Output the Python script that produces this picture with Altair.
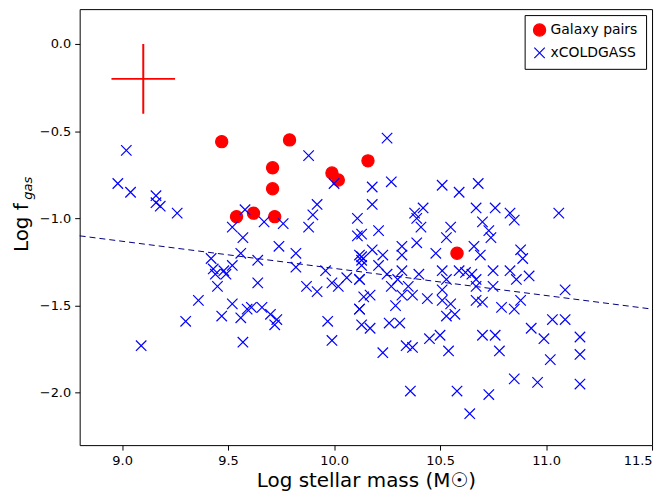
import altair as alt
import pandas as pd

pairs_mass = [9.47, 9.54, 9.62, 9.71, 9.71, 9.72, 9.79, 9.99, 10.02, 10.16, 10.58]
pairs_fgas = [-0.56, -0.99, -0.97, -0.71, -0.83, -0.99, -0.55, -0.74, -0.78, -0.67, -1.20]

cold_mass = [
    9.02, 8.98, 9.04, 9.16, 9.16, 9.18, 9.26, 9.09, 9.30, 9.36, 9.42, 9.43, 9.44, 9.45,
    9.48, 9.49, 9.52, 9.47, 9.52, 9.52, 9.58, 9.57, 9.56, 9.64, 9.64, 9.56, 9.57, 9.59,
    9.61, 9.66, 9.70, 9.73, 9.72, 9.67, 9.76, 9.74, 9.82, 9.82, 9.87, 9.92, 9.88, 9.90,
    9.92, 9.88, 10.00, 9.96, 9.99, 10.02, 10.06, 10.12, 9.97, 9.99, 10.11, 10.11, 10.12,
    10.13, 10.13, 10.12, 10.13, 10.14,
    10.25, 10.18, 10.27, 10.18, 10.51, 10.59, 10.68, 11.06, 10.38, 10.42, 10.39, 10.41,
    10.67, 10.76, 10.83, 10.85, 10.70, 10.73, 10.74, 10.21, 10.13, 10.55, 10.53, 10.39,
    10.32, 10.32, 10.48, 10.66, 10.69, 10.88, 10.89, 10.18, 10.23, 10.13, 10.21, 10.25,
    10.32, 10.40, 10.30, 10.35, 10.51, 10.53, 10.59, 10.62, 10.65, 10.67, 10.67, 10.75,
    10.75, 10.83, 10.86, 10.92, 11.09, 10.12, 10.27, 10.17, 10.32, 10.37, 10.44, 10.51,
    10.51, 10.55, 10.57, 10.53, 10.29, 10.31, 10.26, 10.17, 10.12, 10.67, 10.70, 10.79,
    10.85, 10.88, 10.93, 10.99, 11.03, 11.09, 11.16, 11.16, 11.02, 10.96, 11.16, 10.85,
    10.70, 10.76, 10.78, 10.54, 10.50, 10.45, 10.37, 10.34, 10.23, 10.36, 10.58, 10.73,
    10.64,
]
cold_fgas = [
    -0.61, -0.80, -0.85, -0.87, -0.91, -0.93, -0.97, -1.73, -1.59, -1.47, -1.23, -1.29,
    -1.32, -1.39, -1.30, -1.32, -1.27, -1.56, -1.49, -1.05, -0.95, -1.11, -1.20, -1.24,
    -1.37, -1.57, -1.71, -1.52, -1.51, -1.51, -1.55, -1.58, -1.61, -1.02, -1.03, -1.16,
    -1.20, -1.28, -1.39, -1.42, -1.05, -0.98, -0.92, -0.64, -0.80, -1.30, -1.37, -1.39,
    -1.34, -1.35, -1.59, -1.70, -1.00, -1.10, -1.21, -1.24, -1.27, -1.52, -1.61, -1.45,
    -0.54, -0.82, -0.79, -0.92, -0.81, -0.85, -0.80, -0.97, -0.97, -0.94, -1.00, -1.05,
    -0.94, -0.94, -0.97, -1.01, -1.02, -1.07, -1.11, -1.07, -1.09, -1.05, -1.11, -1.14,
    -1.16, -1.21, -1.20, -1.16, -1.21, -1.18, -1.23, -1.18, -1.21, -1.22, -1.27, -1.32,
    -1.30, -1.32, -1.35, -1.39, -1.30, -1.35, -1.30, -1.31, -1.32, -1.35, -1.39, -1.30,
    -1.39, -1.30, -1.35, -1.33, -1.41, -1.35, -1.39, -1.44, -1.44, -1.44, -1.46, -1.41,
    -1.47, -1.49, -1.55, -1.56, -1.50, -1.60, -1.60, -1.63, -1.52, -1.47, -1.48, -1.51,
    -1.52, -1.47, -1.63, -1.69, -1.58, -1.58, -1.68, -1.78, -1.81, -1.94, -1.95, -1.92,
    -1.67, -1.67, -1.76, -1.76, -1.67, -1.69, -1.74, -1.73, -1.77, -1.99, -1.99, -2.01,
    -2.12,
]

fit_mass = [8.8, 11.5]
fit_fgas = [-1.10, -1.52]

err_mass, err_fgas = 9.1, -0.2
err_dx, err_dy = 0.15, 0.2

pts = pd.concat([
    pd.DataFrame({"mass": pairs_mass, "fgas": pairs_fgas, "series": "Galaxy pairs"}),
    pd.DataFrame({"mass": cold_mass, "fgas": cold_fgas, "series": "xCOLDGASS"}),
])
fit = pd.DataFrame({"mass": fit_mass, "fgas": fit_fgas})
err = pd.DataFrame({
    "x": [err_mass - err_dx, err_mass], "x2": [err_mass + err_dx, err_mass],
    "y": [err_fgas, err_fgas - err_dy], "y2": [err_fgas, err_fgas + err_dy],
})

font = "DejaVu Sans"
series = ["Galaxy pairs", "xCOLDGASS"]
xs = alt.Scale(domain=[8.8, 11.5], nice=False, zero=False)
ys = alt.Scale(domain=[-2.3, 0.2], nice=False, zero=False)
X_PATH = "M-1,-1L1,1M-1,1L1,-1"

x_axis = alt.Axis(values=[9.0, 9.5, 10.0, 10.5, 11.0, 11.5], format=".1f", grid=False,
                  tickSize=5, tickColor="black", labelPadding=4, labelFontSize=13,
                  title="Log stellar mass (M☉)", titleFontSize=20, titleFontWeight="normal",
                  titlePadding=4, domain=False, labelFont=font, titleFont=font,
                  labelColor="black", titleColor="black")
y_axis = alt.Axis(values=[-2.0, -1.5, -1.0, -0.5, 0.0], format=".1f", grid=False,
                  tickSize=5, tickColor="black", labelPadding=4, labelFontSize=13,
                  title="Log f     ", titleFontSize=20, titleFontWeight="normal",
                  titlePadding=8, domain=False, labelFont=font, titleFont=font,
                  labelColor="black", titleColor="black")

fit_line = alt.Chart(fit).mark_line(color="#000080", strokeDash=[6, 4], strokeWidth=1).encode(
    x=alt.X("mass:Q", scale=xs, axis=x_axis),
    y=alt.Y("fgas:Q", scale=ys, axis=y_axis),
)

points = alt.Chart(pts).mark_point(opacity=1, strokeWidth=1.2).encode(
    x=alt.X("mass:Q", scale=xs),
    y=alt.Y("fgas:Q", scale=ys),
    color=alt.Color("series:N", scale=alt.Scale(domain=series, range=["red", "blue"]),
                    legend=alt.Legend(title=None, orient="top-right", labelFontSize=14, labelFont=font,
                                      strokeColor="black", fillColor="white", padding=8,
                                      symbolSize=200, rowPadding=6, offset=6, labelColor="black")),
    shape=alt.Shape("series:N", scale=alt.Scale(domain=series, range=["circle", X_PATH])),
    fill=alt.Fill("series:N", scale=alt.Scale(domain=series, range=["red", "transparent"])),
    size=alt.Size("series:N", scale=alt.Scale(domain=series, range=[150, 110]), legend=None),
)

err_rule = alt.Chart(err).mark_rule(color="red", strokeWidth=2).encode(
    x="x:Q", x2="x2", y="y:Q", y2="y2",
)

sub = alt.Chart(pd.DataFrame({"t": ["gas"]})).mark_text(
    font=font, fontSize=13, fontStyle="italic", angle=270, color="black"
).encode(text="t:N", x=alt.value(-52), y=alt.value(180))

chart = alt.layer(fit_line, points, err_rule, sub).properties(
    width=575, height=438, autosize=alt.AutoSizeParams(type="none"),
    padding={"left": 72, "top": 0, "right": 10, "bottom": 50},
).configure_view(stroke="black", strokeWidth=1).configure_legend(
    symbolStrokeWidth=1.2
)

chart.save("out.html", embed_options={"renderer": "svg", "actions": False})
